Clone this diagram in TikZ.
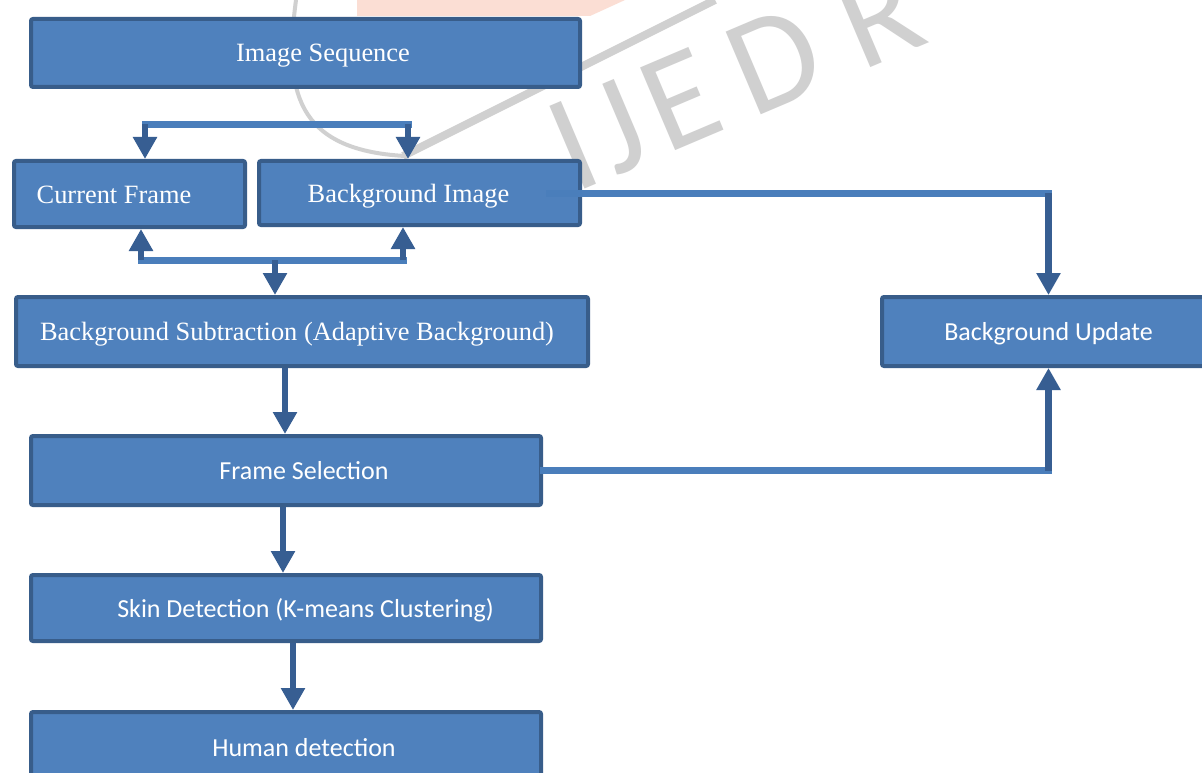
\documentclass[tikz,border=0pt]{standalone}
\usepackage{fontspec}
\setmainfont{Liberation Serif}
\newfontfamily\calfont{Carlito}
\usetikzlibrary{arrows.meta}
\definecolor{boxfill}{HTML}{4F81BD}
\definecolor{boxline}{HTML}{385D8A}
\definecolor{linklight}{HTML}{4A7EBB}
\definecolor{linkdark}{HTML}{375E92}
\definecolor{wmgrey}{RGB}{208,208,208}
\definecolor{wmsalmon}{RGB}{251,222,212}
\begin{document}
\begin{tikzpicture}[x=1pt,y=-1pt,
  box/.style={draw=boxline, fill=boxfill, line width=4pt, rounded corners=2pt,
    inner sep=0pt, text=white, anchor=north west, text height=18pt, text depth=0pt},
  serifbox/.style={box, font=\fontsize{26.4}{30}\selectfont},
  sansbox/.style={box, font=\calfont\fontsize{26}{30}\selectfont},
  linkl/.style={draw=linklight, line width=7pt, line cap=rect},
  arr/.style={draw=linkdark, line width=6.5pt,
    -{Triangle[width=23pt,length=22pt]}, fill=linkdark},
  wm/.style={text=wmgrey, inner sep=0pt, anchor=base west,
    font=\calfont\fontsize{140}{140}\selectfont}
]
\useasboundingbox (0,0) rectangle (1202,773);
\clip (0,0) rectangle (1202,773);
\fill[white] (0,0) rectangle (1202,773);

% watermark
\fill[wmsalmon] (357,0) -- (625,0) -- (590,16) -- (357,16) -- cycle;
\draw[wmgrey, line width=4pt] (296,0) .. controls (284,90) and (295,150) .. (405,156);
\draw[wmgrey, line width=8pt] (403,156) -- (715,0);
\node[wm, rotate=23] (wmtext) at (574,194)
  {I\hspace{10pt}J\hspace{10pt}E\hspace{25pt}D\hspace{33pt}R};

% boxes
\node[serifbox, minimum width=549pt, minimum height=68pt] (is) at (29,17)
  {\hspace*{35pt}Image Sequence};
\node[serifbox, minimum width=231pt, minimum height=66pt] (cf) at (12,159)
  {Current Frame\hspace*{31pt}};
\node[serifbox, minimum width=321pt, minimum height=64pt] (bi) at (257,159)
  {Background Image\hspace*{22pt}};
\node[serifbox, minimum width=572pt, minimum height=69pt] (bs) at (14,295)
  {Background Subtraction (Adaptive Background)\hspace*{10pt}};
\node[sansbox, minimum width=333pt, minimum height=69pt] (bu) at (880,295)
  {Background Update};
\node[sansbox, minimum width=510pt, minimum height=69pt] (fs) at (29,434)
  {\hspace*{36pt}Frame Selection};
\node[sansbox, minimum width=510pt, minimum height=66pt] (sk) at (29,573)
  {\hspace*{39pt}Skin Detection (K-means Clustering)};
\node[sansbox, minimum width=510pt, minimum height=70pt] (hd) at (29,710)
  {\hspace*{36pt}Human detection};

% top bracket
\coordinate (tl) at (145,124.5);
\coordinate (tr) at (408,124.5);
\draw[linkl] (tl) -- (tr);
\draw[arr] (tl) -- (tl |- cf.north);
\draw[arr] (tr) -- (tr |- bi.north);

% bottom bracket
\coordinate (bl) at (141,260);
\coordinate (br) at (403,260);
\coordinate (bm) at (275,260);
\draw[linkl] (bl) -- (br);
\draw[arr] (bl) -- (bl |- cf.south);
\draw[arr] (br) -- (br |- bi.south);
\draw[arr] (bm) -- (bm |- bs.north);

% background image -> background update
\coordinate (c1) at (bi.east -| bu.north);
\draw[linkl] ([xshift=-33pt]bi.east) -- (c1);
\draw[arr] (c1) -- (bu.north);

% frame selection -> background update
\coordinate (c2) at (fs.east -| bu.south);
\draw[linkl] (fs.east) -- (c2);
\draw[arr] (c2) -- (bu.south);

% main chain
\draw[arr] ([xshift=-17pt]bs.south) -- ([xshift=-17pt]bs.south |- fs.north);
\draw[arr] ([xshift=-3pt]fs.south) -- ([xshift=-3pt]fs.south |- sk.north);
\draw[arr] ([xshift=7pt]sk.south) -- ([xshift=7pt]sk.south |- hd.north);
\end{tikzpicture}
\end{document}
